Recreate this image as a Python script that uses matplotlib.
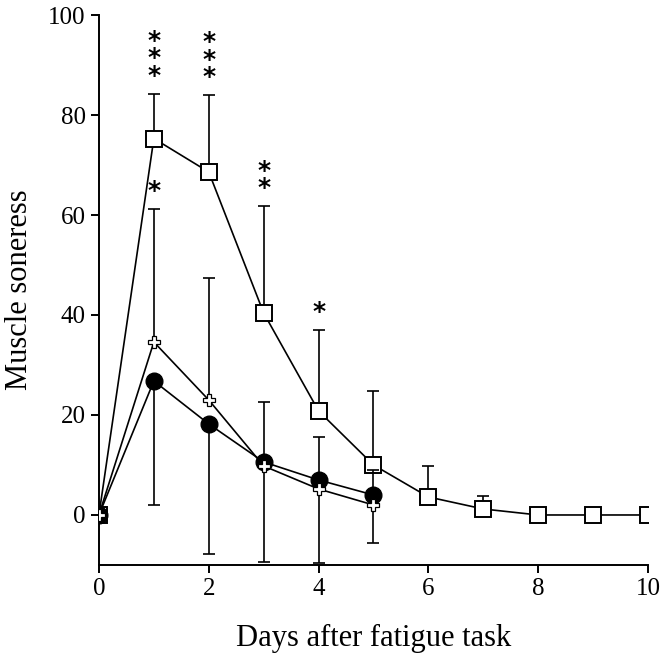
import matplotlib.pyplot as plt

# days after task
days_sq = [0, 1, 2, 3, 4, 5, 6, 7, 8, 9, 10]
days_short = [0, 1, 2, 3, 4, 5]

# open squares (upper SD bars)
sq_mean = [0, 75.3, 68.6, 40.4, 20.8, 10.0, 3.6, 1.2, 0, 0, 0]
sq_sd = [0, 9.0, 15.4, 21.4, 16.2, 14.8, 6.2, 2.6, 0, 0, 0]

# crosses (upper SD bars)
cr_mean = [0, 34.6, 23.0, 9.8, 5.2, 2.0]
cr_sd = [0, 26.6, 24.4, 12.8, 10.4, 7.0]

# filled circles (lower SD bars)
ci_mean = [0, 26.8, 18.2, 10.6, 7.0, 4.0]
ci_sd = [0, 24.8, 26.0, 20.0, 16.6, 9.6]

# significance marks: (day, top of bar, label)
stars = [(1, 84.3, "*\n*\n*"), (2, 84.0, "*\n*\n*"), (1, 61.2, "*"),
         (3, 61.8, "*\n*"), (4, 37.0, "*")]

plt.rcParams['font.family'] = ['Liberation Serif', 'DejaVu Serif']

fig = plt.figure(figsize=(6.64, 6.53), dpi=100)
ax = fig.add_axes([0.149, 0.1348, 0.827, 0.8422])

lw = 1.2
ekw = dict(ecolor='black', elinewidth=lw, capsize=4, capthick=lw)

# square series
ax.errorbar(days_sq, sq_mean, yerr=[[0] * len(sq_sd), sq_sd], fmt='none', **ekw, zorder=2)
ax.plot(days_sq, sq_mean, color='black', lw=lw, marker='s', markersize=12,
        markerfacecolor='white', markeredgecolor='black', markeredgewidth=1.4, zorder=3)

# circle series
ax.errorbar(days_short, ci_mean, yerr=[ci_sd, [0] * len(ci_sd)], fmt='none', **ekw, zorder=4)
ax.plot(days_short, ci_mean, color='black', lw=lw, marker='o', markersize=12,
        markerfacecolor='black', markeredgecolor='black', zorder=5)

# cross series
ax.errorbar(days_short, cr_mean, yerr=[[0] * len(cr_sd), cr_sd], fmt='none', **ekw, zorder=6)
ax.plot(days_short, cr_mean, color='black', lw=lw, marker='P', markersize=8,
        markerfacecolor='white', markeredgecolor='black', markeredgewidth=0.9, zorder=7)

for d, top, s in stars:
    ax.annotate(s, (d, top), xytext=(0, 4), textcoords='offset points',
                ha='center', va='bottom', fontsize=18, linespacing=0.66,
                family='DejaVu Sans', fontweight='bold')

ax.set_xlim(0, 10)
ax.set_ylim(-10, 100)
ax.set_xticks([0, 2, 4, 6, 8, 10])
ax.set_yticks([0, 20, 40, 60, 80, 100])
ax.spines['top'].set_visible(False)
ax.spines['right'].set_visible(False)
for sp in ['left', 'bottom']:
    ax.spines[sp].set_linewidth(1.4)
ax.tick_params(axis='both', direction='out', length=6, width=1.4, labelsize=18)

ax.set_xlabel('Days after fatigue task', fontsize=22, labelpad=17)
ax.set_ylabel('Muscle soneress', fontsize=22, labelpad=10)

fig.savefig('out.png', dpi=100)
